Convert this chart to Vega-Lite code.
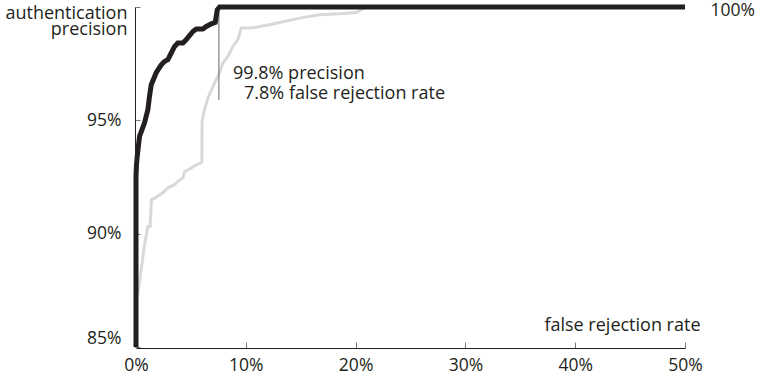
{
  "$schema": "https://vega.github.io/schema/vega-lite/v6.json",
  "width": 549,
  "height": 340,
  "autosize": {"type": "none"},
  "padding": {"left": 136, "top": 7, "right": 75, "bottom": 33},
  "background": "white",
  "config": {
    "view": {"stroke": null},
    "font": "Open Sans",
    "axis": {"grid": false, "labelFont": "Open Sans", "titleFont": "Open Sans", "labelFontSize": 17.5, "titleFontSize": 18, "labelColor": "#231f20", "titleColor": "#231f20", "titleFontWeight": "normal", "domainColor": "#231f20", "tickColor": "#777777"}
  },
  "datasets": {
    "curves": [
      {"series": "gray", "frr": 0.16, "prec": 87.31},
      {"series": "gray", "frr": 0.47, "prec": 88.41},
      {"series": "gray", "frr": 0.77, "prec": 89.51},
      {"series": "gray", "frr": 1.08, "prec": 90.32},
      {"series": "gray", "frr": 1.28, "prec": 90.32},
      {"series": "gray", "frr": 1.41, "prec": 91.5},
      {"series": "gray", "frr": 1.69, "prec": 91.57},
      {"series": "gray", "frr": 2.44, "prec": 91.8},
      {"series": "gray", "frr": 2.9, "prec": 92.02},
      {"series": "gray", "frr": 3.51, "prec": 92.16},
      {"series": "gray", "frr": 3.81, "prec": 92.31},
      {"series": "gray", "frr": 4.27, "prec": 92.46},
      {"series": "gray", "frr": 4.42, "prec": 92.73},
      {"series": "gray", "frr": 4.88, "prec": 92.85},
      {"series": "gray", "frr": 5.49, "prec": 93.04},
      {"series": "gray", "frr": 6.0, "prec": 93.15},
      {"series": "gray", "frr": 6.02, "prec": 94.95},
      {"series": "gray", "frr": 6.24, "prec": 95.47},
      {"series": "gray", "frr": 6.55, "prec": 95.99},
      {"series": "gray", "frr": 7.16, "prec": 96.65},
      {"series": "gray", "frr": 7.61, "prec": 97.09},
      {"series": "gray", "frr": 7.91, "prec": 97.53},
      {"series": "gray", "frr": 8.37, "prec": 97.82},
      {"series": "gray", "frr": 8.82, "prec": 98.26},
      {"series": "gray", "frr": 9.28, "prec": 98.56},
      {"series": "gray", "frr": 9.59, "prec": 99.07},
      {"series": "gray", "frr": 10.5, "prec": 99.07},
      {"series": "gray", "frr": 12.17, "prec": 99.22},
      {"series": "gray", "frr": 13.08, "prec": 99.32},
      {"series": "gray", "frr": 14.9, "prec": 99.51},
      {"series": "gray", "frr": 16.73, "prec": 99.66},
      {"series": "gray", "frr": 18.55, "prec": 99.7},
      {"series": "gray", "frr": 20.07, "prec": 99.76},
      {"series": "gray", "frr": 20.65, "prec": 99.92},
      {"series": "gray", "frr": 20.9, "prec": 100},
      {"series": "gray", "frr": 50, "prec": 100},
      {"series": "black", "frr": 0, "prec": 85},
      {"series": "black", "frr": 0, "prec": 92.53},
      {"series": "black", "frr": 0.04, "prec": 93.0},
      {"series": "black", "frr": 0.11, "prec": 93.41},
      {"series": "black", "frr": 0.32, "prec": 94.29},
      {"series": "black", "frr": 0.77, "prec": 94.88},
      {"series": "black", "frr": 1.08, "prec": 95.47},
      {"series": "black", "frr": 1.23, "prec": 96.06},
      {"series": "black", "frr": 1.39, "prec": 96.57},
      {"series": "black", "frr": 1.84, "prec": 97.1},
      {"series": "black", "frr": 2.3, "prec": 97.45},
      {"series": "black", "frr": 2.6, "prec": 97.6},
      {"series": "black", "frr": 2.9, "prec": 97.68},
      {"series": "black", "frr": 3.21, "prec": 97.97},
      {"series": "black", "frr": 3.51, "prec": 98.26},
      {"series": "black", "frr": 3.81, "prec": 98.41},
      {"series": "black", "frr": 4.27, "prec": 98.41},
      {"series": "black", "frr": 4.58, "prec": 98.56},
      {"series": "black", "frr": 5.18, "prec": 98.92},
      {"series": "black", "frr": 5.49, "prec": 99.03},
      {"series": "black", "frr": 6.09, "prec": 99.03},
      {"series": "black", "frr": 6.4, "prec": 99.14},
      {"series": "black", "frr": 6.86, "prec": 99.26},
      {"series": "black", "frr": 7.22, "prec": 99.32},
      {"series": "black", "frr": 7.4, "prec": 99.88},
      {"series": "black", "frr": 7.61, "prec": 100},
      {"series": "black", "frr": 50, "prec": 100}
    ],
    "rule": [
      {"frr": 7.55, "prec": 95.9, "prec2": 99.85}
    ],
    "notes": [
      {"frr": 8.83, "prec": 96.82, "label": "99.8% precision"},
      {"frr": 9.84, "prec": 95.94, "label": "7.8% false rejection rate"}
    ]
  },
  "resolve": {"axis": {"y": "independent"}},
  "layer": [
    {
      "data": {"name": "curves"},
      "transform": [{"filter": "datum.series == 'gray'"}],
      "mark": {"type": "line", "color": "#d9d9d9", "strokeWidth": 3, "clip": true},
      "encoding": {
        "x": {"field": "frr", "type": "quantitative",
          "scale": {"domain": [0, 50], "nice": false, "zero": false},
          "axis": {"values": [0, 10, 20, 30, 40, 50], "labelExpr": "datum.value + '%'", "labelFlush": false, "tickSize": -6, "labelPadding": 14, "offset": 1, "domainWidth": 1,
            "title": "false rejection rate", "titleAnchor": "end", "titleAlign": "right", "titleX": 564, "titleY": -18, "titleBaseline": "alphabetic"}},
        "y": {"field": "prec", "type": "quantitative",
          "scale": {"domain": [85, 100], "nice": false, "zero": false},
          "axis": {"values": [85, 90, 95, 100], "labelExpr": "datum.value == 100 ? '' : datum.value + '%'", "labelFlush": true, "tickSize": -5, "labelPadding": 19, "offset": 1,
            "title": ["authentication", "precision"], "titleAngle": 0, "titleAlign": "right", "titleBaseline": "alphabetic", "titleX": -8, "titleY": 11, "titleLineHeight": 16}}
      }
    },
    {
      "data": {"name": "rule"},
      "mark": {"type": "rule", "color": "#666666", "strokeWidth": 1},
      "encoding": {
        "x": {"field": "frr", "type": "quantitative", "title": "false rejection rate"},
        "y": {"field": "prec", "type": "quantitative", "axis": null},
        "y2": {"field": "prec2"}
      }
    },
    {
      "data": {"name": "curves"},
      "transform": [{"filter": "datum.series == 'black'"}],
      "mark": {"type": "line", "color": "#231f20", "strokeWidth": 5},
      "encoding": {
        "x": {"field": "frr", "type": "quantitative", "title": "false rejection rate"},
        "y": {"field": "prec", "type": "quantitative",
          "axis": {"orient": "right", "values": [100], "labelExpr": "datum.value + '%'", "domain": false, "ticks": false, "labelPadding": 25, "labelFlush": false, "labelBaseline": "middle", "labelOffset": 3, "title": null}}
      }
    },
    {
      "data": {"name": "notes"},
      "mark": {"type": "text", "align": "left", "baseline": "alphabetic", "fontSize": 18, "font": "Open Sans", "color": "#231f20"},
      "encoding": {
        "x": {"field": "frr", "type": "quantitative", "title": "false rejection rate"},
        "y": {"field": "prec", "type": "quantitative", "axis": null},
        "text": {"field": "label"}
      }
    }
  ]
}
